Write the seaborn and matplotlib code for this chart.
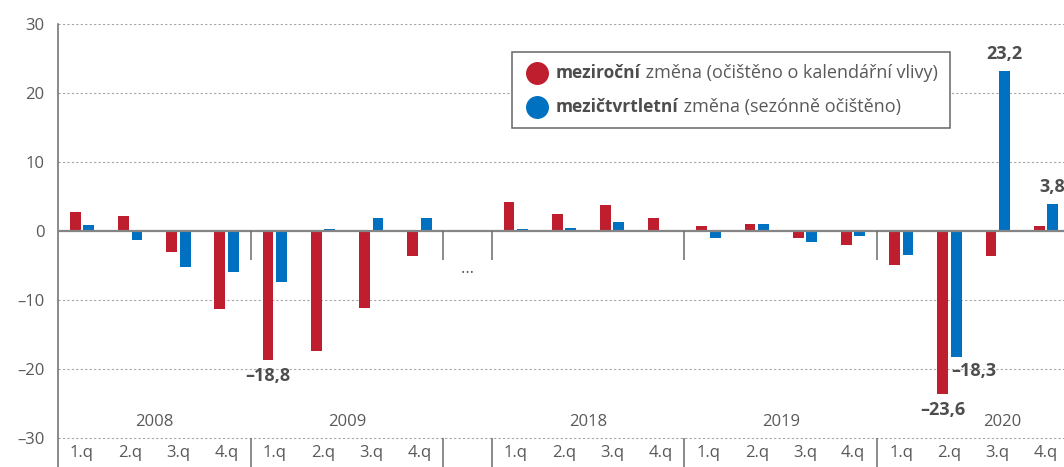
import matplotlib
matplotlib.use("Agg")
import matplotlib.pyplot as plt
from matplotlib.patches import Rectangle
from matplotlib.text import Annotation
import pandas as pd
import seaborn as sns

# ===============================
# DATA
# ===============================
years = ["2008", "2009", "2018", "2019", "2020"]
quarters = ["1.q", "2.q", "3.q", "4.q"]
gap_after = "2009"          # the "…" slot sits after this year

# year-on-year change (calendar adjusted)  -> red
yoy = {
    "2008": [2.7, 2.2, -3.1, -11.3],
    "2009": [-18.8, -17.4, -11.2, -3.6],
    "2018": [4.2, 2.4, 3.7, 1.9],
    "2019": [0.7, 0.9, -1.1, -2.1],
    "2020": [-5.0, -23.6, -3.6, 0.7],
}
# quarter-on-quarter change (seasonally adjusted) -> blue
qoq = {
    "2008": [0.8, -1.3, -5.2, -6.0],
    "2009": [-7.5, 0.2, 1.8, 1.9],
    "2018": [0.2, 0.4, 1.2, 0.1],
    "2019": [-1.0, 1.0, -1.6, -0.8],
    "2020": [-3.5, -18.3, 23.2, 3.8],
}

series_names = ["meziroční", "mezičtvrtletní"]
series_rest = [" změna (očištěno o kalendářní vlivy)", " změna (sezónně očištěno)"]
colors = ["#BE1E2D", "#0070C0"]

# labelled values: (series, value, horizontal align, label centre y)
labels = [
    ("meziroční", -18.8, "center", -21.0),
    ("meziroční", -23.6, "center", -26.0),
    ("mezičtvrtletní", -18.3, "left", -20.3),
    ("mezičtvrtletní", 23.2, "center", 25.6),
    ("mezičtvrtletní", 3.8, "center", 6.3),
]

yticks = [-30, -20, -10, 0, 10, 20, 30]

# ===============================
# BUILD TABLE
# ===============================
order = []
rows = []
for y in years:
    for i, q in enumerate(quarters):
        slot = f"{y} {q}"
        order.append(slot)
        rows.append({"slot": slot, "series": series_names[0], "value": yoy[y][i]})
        rows.append({"slot": slot, "series": series_names[1], "value": qoq[y][i]})
    if y == gap_after:
        order.append("gap")
df = pd.DataFrame(rows)

# ===============================
# STYLE
# ===============================
sns.set_style("white")
plt.rcParams["font.family"] = ["Open Sans", "DejaVu Sans"]
text_col = "#595959"
line_col = "#6b6b6b"

W, H = 1064, 467
fig = plt.figure(figsize=(W / 100, H / 100), dpi=100)
x0, x1 = 57.9, 1070.0
y_top = 23.7
ax = fig.add_axes([x0 / W, 0, (x1 - x0) / W, 1 - y_top / H])

sns.barplot(data=df, x="slot", y="value", hue="series", order=order,
            hue_order=series_names, palette=colors, width=0.56, gap=0.2,
            errorbar=None, saturation=1, linewidth=0, legend=False, ax=ax,
            zorder=2)

ax.set_xlim(-0.5, len(order) - 0.5)
ax.set_ylim(-34.25, 30)
ax.set_xlabel("")
ax.set_ylabel("")
ax.set_xticks([])
ax.set_yticks(yticks)
ax.set_yticklabels([str(t).replace("-", "–") for t in yticks])
ax.tick_params(axis="y", length=0, pad=9.5, labelsize=12, labelcolor=text_col)

for s in ["top", "right", "bottom"]:
    ax.spines[s].set_visible(False)
ax.spines["left"].set_color(line_col)
ax.spines["left"].set_linewidth(1.1)

for t in yticks:
    if t != 0:
        ax.axhline(t, color="#a6a6a6", lw=0.8, ls=(0, (2, 2)), zorder=1)
ax.axhline(0, color="#858585", lw=1.6, zorder=3)

# year dividers, quarter and year labels
bounds = []
pos = 0
for y in years:
    for i, q in enumerate(quarters):
        ax.text(pos + i, -32.2, q, ha="center", va="center",
                fontsize=12, color=text_col)
    xc = pos + 1.5 if y != years[-1] else pos + 2.1
    ax.text(xc, -27.8, y, ha="center", va="center", fontsize=12, color=text_col)
    pos += 4
    if y != years[-1]:
        bounds.append(pos - 0.5)
    if y == gap_after:
        ax.text(pos, -5.6, "…", ha="center", va="center", fontsize=12, color=text_col)
        pos += 1
        bounds.append(pos - 0.5)

ax.vlines(bounds, -4.2, 0, color=line_col, lw=1.1, zorder=3)
ax.vlines(bounds, -34.25, -30, color=line_col, lw=1.1, zorder=3)

# value labels on chosen bars
bars = ax.patches
for ser, val, ha, ly in labels:
    col = matplotlib.colors.to_rgba(colors[series_names.index(ser)])
    for b in bars:
        if abs(b.get_height() - val) < 1e-6 and b.get_facecolor() == col:
            bx = b.get_x() + b.get_width() / 2 if ha == "center" else b.get_x()
            ax.text(bx, ly, f"{val:.1f}".replace(".", ",").replace("-", "–"),
                    ha=ha, va="center", fontsize=13, fontweight="bold",
                    color="#4d4d4d", zorder=4)
            break

# legend box (figure pixels)
lx0, ly0, lx1, ly1 = 512, 52, 950, 128
fig.patches.append(Rectangle((lx0 / W, 1 - ly1 / H), (lx1 - lx0) / W, (ly1 - ly0) / H,
                             transform=fig.transFigure, fill=True, facecolor="white",
                             edgecolor="#666666", lw=1.1, zorder=5))
for k, (name, rest) in enumerate(zip(series_names, series_rest)):
    cy = 1 - (73 + 34 * k) / H
    fig.lines.append(plt.Line2D([537 / W], [cy], marker="o", markersize=15.5,
                                color=colors[k], transform=fig.transFigure, zorder=6))
    t1 = fig.text(556 / W, cy, name, ha="left", va="center", fontsize=12.5,
                  fontweight="bold", color="#4d4d4d", zorder=6)
    fig.add_artist(Annotation(rest, xy=(1, 0), xycoords=t1, ha="left", va="bottom",
                              fontsize=13, color=text_col, zorder=6))

fig.savefig("out.png", dpi=100)
